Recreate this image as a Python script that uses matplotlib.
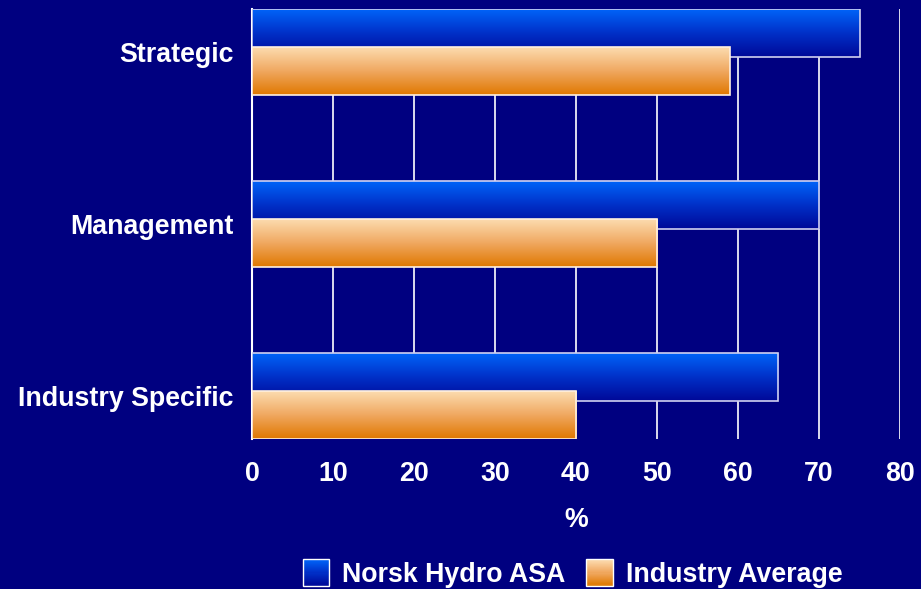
import numpy as np
import matplotlib.pyplot as plt
from matplotlib.patches import Rectangle
from matplotlib.legend_handler import HandlerBase
from matplotlib.colors import LinearSegmentedColormap

plt.rcParams['font.family'] = ['Liberation Sans', 'DejaVu Sans']

categories = ['Industry Specific', 'Management', 'Strategic']
norsk = [65, 70, 75]
industry = [40, 50, 59]
series_names = ['Norsk Hydro ASA', 'Industry Average']

bg = '#000080'
fs = 19.3
blue_cmap = LinearSegmentedColormap.from_list('b', ['#0064f8', '#0030c8', '#000898'])
orange_cmap = LinearSegmentedColormap.from_list('o', ['#fcdcb0', '#f0a860', '#e07800'])

fig = plt.figure(figsize=(9.21, 5.89), dpi=100, facecolor=bg)
ax = fig.add_axes([0.2736, 0.2547, 0.7036, 0.73])
ax.set_facecolor(bg)

y = np.arange(len(categories))
h = 0.279
off = 0.11

grad = np.linspace(0, 1, 256).reshape(-1, 1)


def gradient_bars(bars, cmap, z):
    for b in bars:
        x0, y0 = b.get_x(), b.get_y()
        w, hh = b.get_width(), b.get_height()
        ax.imshow(grad, cmap=cmap, aspect='auto', extent=(x0, x0 + w, y0, y0 + hh),
                  origin='upper', zorder=z, interpolation='bilinear')


b1 = ax.barh(y + off, norsk, height=h, facecolor='none', edgecolor='#d0d0f0', linewidth=1.2, zorder=3.5)
gradient_bars(b1, blue_cmap, 3)
b2 = ax.barh(y - off, industry, height=h, facecolor='none', edgecolor='#fff0e0', linewidth=1.2, zorder=4.5)
gradient_bars(b2, orange_cmap, 4)

ax.set_xlim(0, 80)
ax.set_ylim(-0.25, 2.25)
ax.set_xticks(range(0, 81, 10))
ax.set_yticks(y)
ax.set_yticklabels(categories)
ax.grid(axis='x', color='white', linewidth=1.2, zorder=1)
ax.set_axisbelow(True)
for s in ['top', 'right', 'bottom']:
    ax.spines[s].set_visible(False)
ax.spines['left'].set_color('white')
ax.spines['left'].set_linewidth(1.5)
ax.tick_params(length=0, colors='white', labelsize=fs)
ax.tick_params(axis='x', pad=16)
ax.tick_params(axis='y', pad=13)
for lab in ax.get_xticklabels() + ax.get_yticklabels():
    lab.set_fontweight('bold')
ax.set_xlabel('%', color='white', fontsize=fs, fontweight='bold', labelpad=14)


class GradHandler(HandlerBase):
    def __init__(self, cmap):
        super().__init__()
        self.cmap = cmap

    def create_artists(self, legend, orig_handle, xdescent, ydescent, width, height, fontsize, trans):
        arts = []
        side = height * 1.4
        x0 = width - side
        y0 = -ydescent + (height - side) / 2
        n = 24
        for i in range(n):
            c = self.cmap(1 - (i + 0.5) / n)
            arts.append(Rectangle((x0, y0 + side * i / n), side, side / n + 0.3,
                                  facecolor=c, edgecolor='none', transform=trans))
        arts.append(Rectangle((x0, y0), side, side, facecolor='none', edgecolor='white',
                              linewidth=1, transform=trans))
        return arts


h1 = Rectangle((0, 0), 1, 1)
h2 = Rectangle((0, 0), 1, 1)
leg = fig.legend([h1, h2], series_names, loc='center', bbox_to_anchor=(0.617, 0.024),
                 ncol=2, frameon=False, handlelength=1.3, handletextpad=0.5,
                 columnspacing=0.45,
                 handler_map={h1: GradHandler(blue_cmap), h2: GradHandler(orange_cmap)},
                 prop={'weight': 'bold', 'size': fs})
for t in leg.get_texts():
    t.set_color('white')

fig.savefig('out.png', dpi=100, facecolor=bg)
